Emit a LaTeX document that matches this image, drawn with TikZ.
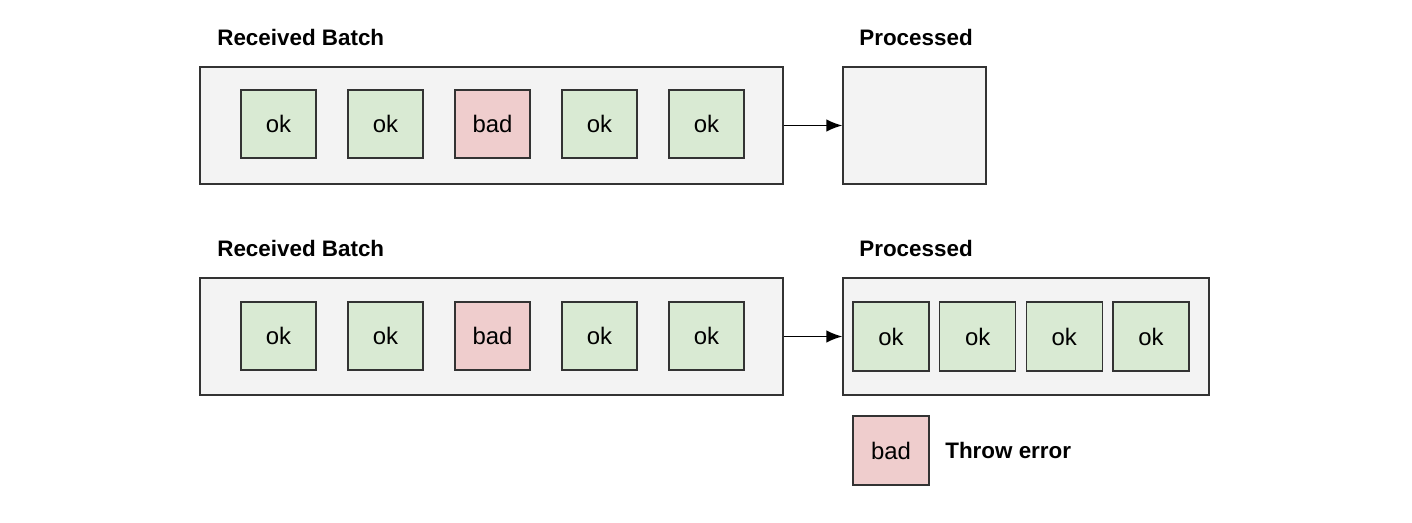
\documentclass[tikz,border=0pt]{standalone}
\usepackage{fontspec}
\setmainfont{Liberation Sans}
\usetikzlibrary{arrows.meta}
\definecolor{boxgray}{HTML}{F3F3F3}
\definecolor{okgreen}{HTML}{D9EAD3}
\definecolor{badred}{HTML}{EFCDCD}
\definecolor{edge}{HTML}{333333}
\begin{document}
\begin{tikzpicture}[auto, node distance=2.14cm, >={Latex[length=3.2mm,width=2.5mm]}]
        \tikzstyle{container} = [draw=edge, line width=0.8pt, fill=boxgray, rectangle, minimum height=2.34cm]
        \tikzstyle{block} = [draw=edge, line width=0.8pt, rectangle, minimum width=1.5cm, minimum height=1.36cm, font=\fontsize{13.6}{15}\selectfont]
        \tikzstyle{ok} = [block, fill=okgreen]
        \tikzstyle{bad} = [block, fill=badred]
        \tikzstyle{title} = [anchor=west, inner sep=0pt, font=\fontsize{12.75}{15}\selectfont\bfseries]

        \useasboundingbox (0,0) rectangle (28.24,-10.44);

        % first run: nothing processed
        \node [title] (batch-a-title) at (4.34,-0.74) {Received Batch};
        \node [container, minimum width=11.66cm] (batch-a) at (9.83,-2.51) {};
        \node [ok] (a1) at (5.57,-2.48) {ok};
        \node [ok, right of=a1] (a2) {ok};
        \node [bad, right of=a2] (a3) {bad};
        \node [ok, right of=a3] (a4) {ok};
        \node [ok, right of=a4] (a5) {ok};
        \node [title] (proc-a-title) at (17.18,-0.74) {Processed};
        \node [container, minimum width=2.86cm] (proc-a) at (18.29,-2.51) {};
        \draw [->, line width=0.8pt] (batch-a) -- (proc-a);

        % second run: ok items processed, bad one thrown
        \node [title] (batch-b-title) at (4.34,-4.96) {Received Batch};
        \node [container, minimum width=11.66cm] (batch-b) at (9.83,-6.73) {};
        \node [ok] (b1) at (5.57,-6.72) {ok};
        \node [ok, right of=b1] (b2) {ok};
        \node [bad, right of=b2] (b3) {bad};
        \node [ok, right of=b3] (b4) {ok};
        \node [ok, right of=b4] (b5) {ok};
        \node [title] (proc-b-title) at (17.18,-4.96) {Processed};
        \node [container, minimum width=7.32cm] (proc-b) at (20.52,-6.73) {};
        \node [ok, minimum width=1.52cm, minimum height=1.38cm] (p1) at (17.82,-6.73) {ok};
        \node [ok, minimum width=1.52cm, minimum height=1.38cm, right of=p1, node distance=1.733cm] (p2) {ok};
        \node [ok, minimum width=1.52cm, minimum height=1.38cm, right of=p2, node distance=1.733cm] (p3) {ok};
        \node [ok, minimum width=1.52cm, minimum height=1.38cm, right of=p3, node distance=1.733cm] (p4) {ok};
        \draw [->, line width=0.8pt] (batch-b) -- (proc-b);

        \node [bad, minimum width=1.52cm, minimum height=1.38cm] (thrown) at (17.82,-9.01) {bad};
        \node [title] (throw-label) at (18.9,-9.0) {Throw error};
    \end{tikzpicture}
\end{document}
